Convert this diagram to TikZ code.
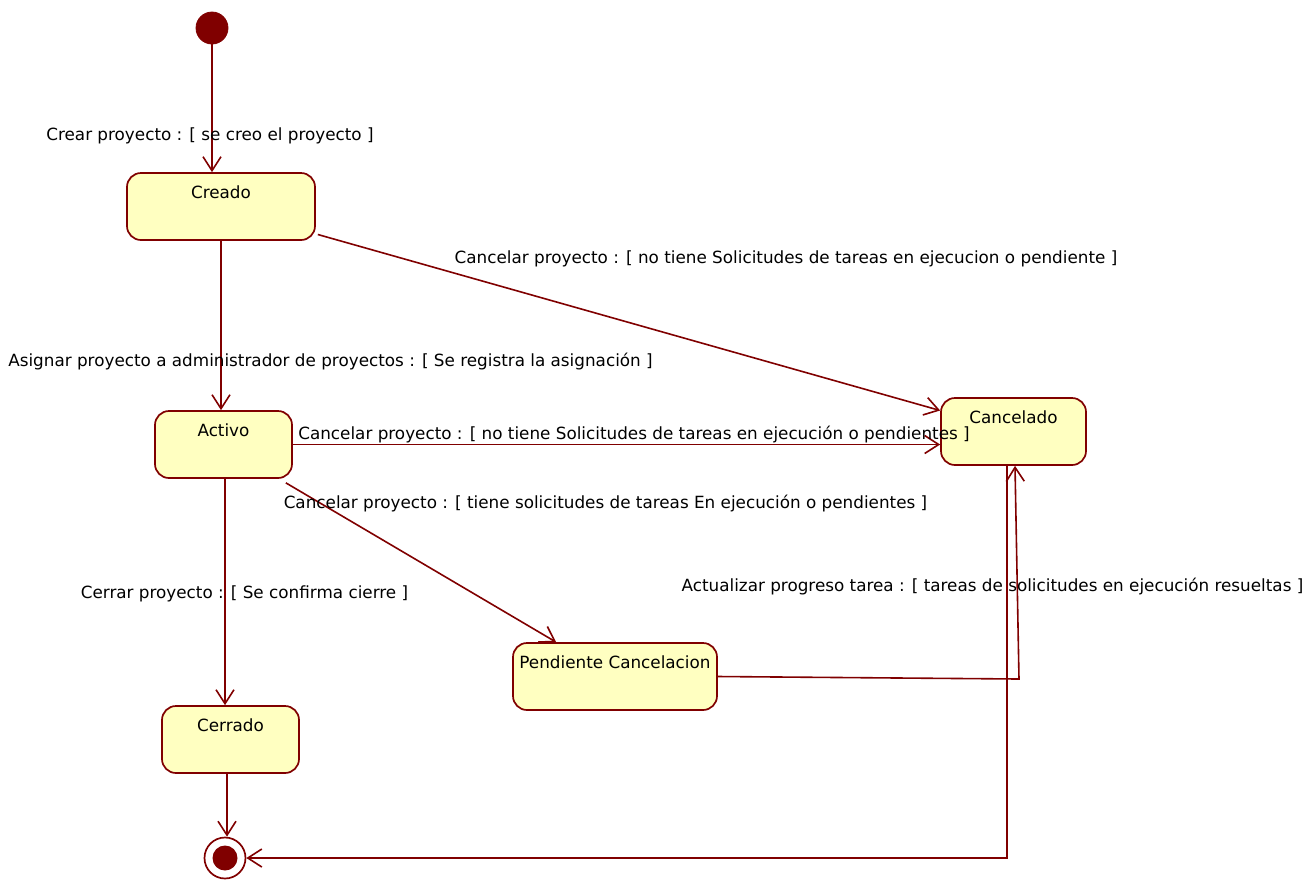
\documentclass[tikz,border=0pt]{standalone}
\usepackage{fontspec}
\setmainfont{DejaVu Sans}
\usetikzlibrary{arrows.meta,calc}
\definecolor{umlred}{RGB}{128,0,0}
\definecolor{umlfill}{RGB}{255,255,193}
\begin{document}
\begin{tikzpicture}[x=0.5pt,y=-0.5pt,
  state/.style={draw=umlred,fill=umlfill,line width=0.85pt,rounded corners=7pt,minimum height=33.5pt,inner sep=0pt},
  statelabel/.style={anchor=north,inner sep=0pt,yshift=-6.5pt,font=\fontsize{8.4pt}{10pt}\selectfont},
  trans/.style={draw=umlred,line width=0.8pt,-{Straight Barb[length=7pt,width=9pt,line width=0.8pt]}},
  lbl/.style={font=\fontsize{8.4pt}{10pt}\selectfont,inner sep=0pt}]
\useasboundingbox (0,0) rectangle (1307,880);
% states
\node[circle,fill=umlred,draw=umlred,minimum size=16pt,inner sep=0pt] (init) at (212,28) {};
\node[state,minimum width=94pt,label={[statelabel]north:Creado}] (creado) at (221,206.5) {};
\node[state,minimum width=68.5pt,label={[statelabel]north:Activo}] (activo) at (223.5,444.5) {};
\node[state,minimum width=72.5pt,label={[statelabel]north:Cancelado}] (canc) at (1013.5,431.5) {};
\node[state,minimum width=102pt,label={[statelabel]north:Pendiente Cancelacion}] (pend) at (615,676.5) {};
\node[state,minimum width=68.5pt,label={[statelabel]north:Cerrado}] (cerrado) at (230.5,739.5) {};
\node[circle,draw=umlred,fill=white,line width=0.85pt,minimum size=20.5pt,inner sep=0pt] (final) at (225,858) {};
\node[circle,fill=umlred,minimum size=12.5pt,inner sep=0pt] (finalin) at (final) {};
% helper coordinates
\coordinate (a6s) at ($(activo.south)+(1.5,0)$);
\coordinate (a6e) at (a6s |- cerrado.north);
\coordinate (c9s) at ($(cerrado.south)+(-3.5,0)$);
\coordinate (c9e) at (c9s |- final.north);
\coordinate (bend) at (1019,679);
% transitions
\draw[trans] (init.south) -- (init.south |- creado.north);
\draw[trans] ($(creado.east)+(2,28)$) -- ($(canc.west)+(0,-21)$);
\draw[trans] (creado.south) -- (creado.south |- activo.north);
\draw[trans] (activo.east) -- (activo.east -| canc.west);
\draw[trans] ($(activo.south east)+(-7,4)$) -- ($(pend.north west)+(44,0)$);
\draw[trans] (a6s) -- (a6e);
\draw[trans] (pend.east) -- (bend) -- ($(canc.south)+(1.5,0)$);
\draw[trans] ($(canc.south)+(-6.5,0)$) |- (final.east);
\draw[trans] (c9s) -- (c9e);
% labels
\node[lbl] (l1) at (210,136) {Crear proyecto : [ se creo el proyecto ]};
\node[lbl] (l2) at (786,259) {Cancelar proyecto : [ no tiene Solicitudes de tareas en ejecucion o pendiente ]};
\node[lbl] (l3) at (330.5,362) {Asignar proyecto a administrador de proyectos : [ Se registra la asignación ]};
\node[lbl] (l4) at (634,435) {Cancelar proyecto : [ no tiene Solicitudes de tareas en ejecución o pendientes ]};
\node[lbl] (l5) at (605.5,504) {Cancelar proyecto : [ tiene solicitudes de tareas En ejecución o pendientes ]};
\node[lbl] (l6) at (244.5,594) {Cerrar proyecto : [ Se confirma cierre ]};
\node[lbl] (l7) at (992.5,587) {Actualizar progreso tarea : [ tareas de solicitudes en ejecución resueltas ]};
\end{tikzpicture}
\end{document}
